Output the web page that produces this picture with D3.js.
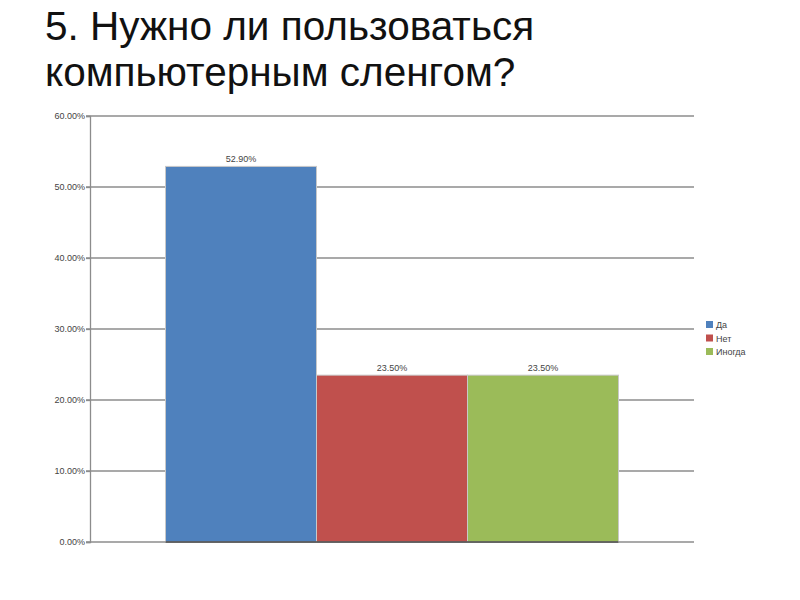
<!DOCTYPE html>
<meta charset="utf-8">
<body style="margin:0;background:#fff">
<script src="https://d3js.org/d3.v7.min.js"></script>
<script>

var W = 800, H = 600;

// data
var titleLines = ['5. Нужно ли пользоваться', 'компьютерным сленгом?'];
var cats = ['Да', 'Нет', 'Иногда'];
var vals = [52.9, 23.5, 23.5];
var colors = ['#4f81bd', '#c0504d', '#9bbb59'];
var ticks = [0, 10, 20, 30, 40, 50, 60];

var svg = d3.select('body').append('svg')
    .attr('width', W).attr('height', H);

var plot = {l: 90, r: 694, t: 116, b: 542};

var y = d3.scaleLinear().domain([0, 60]).range([plot.b, plot.t]);
var x = d3.scaleBand().domain(cats).range([plot.l, plot.r])
    .paddingInner(0).paddingOuter(0.5);

var fmt = d => d.toFixed(2) + '%';
var font = 'Liberation Sans, Arial, sans-serif';

// title
svg.append('g').selectAll('text')
  .data(titleLines).enter().append('text')
    .attr('x', 45)
    .attr('y', (d, i) => 40 + i * 46)
    .attr('font-family', font)
    .attr('font-size', 40.5)
    .attr('fill', '#111')
    .text(d => d);

// grid lines
svg.append('g').selectAll('line')
  .data(ticks).enter().append('line')
    .attr('x1', plot.l - 4).attr('x2', plot.r)
    .attr('y1', d => y(d)).attr('y2', d => y(d))
    .attr('stroke', '#8c8c8c')
    .attr('stroke-width', 1.3);

// y axis
var yAxis = svg.append('g')
    .attr('transform', `translate(${plot.l},0)`)
    .call(d3.axisLeft(y).tickValues(ticks).tickFormat(fmt).tickSize(4));
yAxis.select('.domain').attr('stroke', '#8c8c8c').attr('stroke-width', 1.3);
yAxis.selectAll('.tick line').attr('stroke', '#8c8c8c').attr('stroke-width', 1.3);
yAxis.selectAll('.tick text')
    .attr('font-family', font)
    .attr('font-size', 9)
    .attr('fill', '#444')
    .attr('x', -5);

// bars
svg.append('g').selectAll('rect')
  .data(cats).enter().append('rect')
    .attr('x', d => x(d))
    .attr('y', (d, i) => y(vals[i]))
    .attr('width', x.bandwidth())
    .attr('height', (d, i) => y(0) - y(vals[i]))
    .attr('fill', (d, i) => colors[i])
    .attr('stroke', '#c8c8c8')
    .attr('stroke-width', 1);

// dark base under bars
svg.append('line')
    .attr('x1', x(cats[0])).attr('x2', x(cats[2]) + x.bandwidth())
    .attr('y1', y(0)).attr('y2', y(0))
    .attr('stroke', '#4a4a4a').attr('stroke-width', 1.3);

// data labels
svg.append('g').selectAll('text')
  .data(cats).enter().append('text')
    .attr('x', d => x(d) + x.bandwidth() / 2)
    .attr('y', (d, i) => y(vals[i]) - 4)
    .attr('text-anchor', 'middle')
    .attr('font-family', font)
    .attr('font-size', 9)
    .attr('fill', '#444')
    .text((d, i) => fmt(vals[i]));

// legend
var lg = svg.append('g').selectAll('g')
  .data(cats).enter().append('g')
    .attr('transform', (d, i) => `translate(706,${321 + i * 13.5})`);
lg.append('rect')
    .attr('width', 7).attr('height', 7)
    .attr('fill', (d, i) => colors[i]);
lg.append('text')
    .attr('x', 10).attr('y', 7)
    .attr('font-family', font)
    .attr('font-size', 9)
    .attr('fill', '#444')
    .text(d => d);

</script>
</body>
</html>
